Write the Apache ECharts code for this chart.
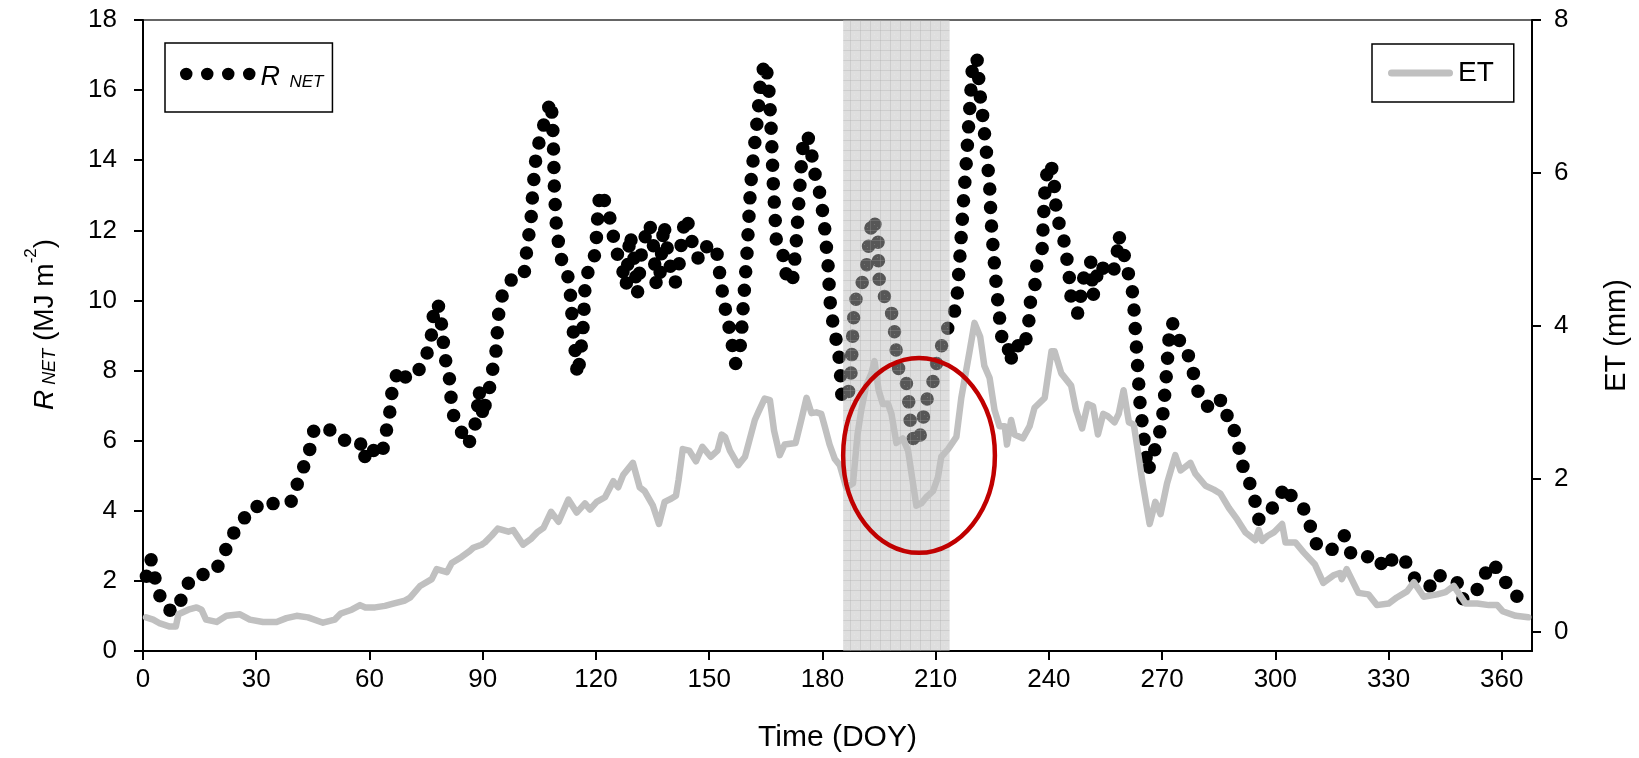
<!DOCTYPE html>
<html>
<head>
<meta charset="utf-8">
<title>R NET and ET</title>
<script src="https://cdn.jsdelivr.net/npm/echarts@6.0.0/dist/echarts.min.js"></script>
<style>
  html, body { margin: 0; padding: 0; background: #fff; }
  #chart { width: 1639px; height: 758px; }
</style>
</head>
<body>
<div id="chart"></div>
<script>
// tick labels
const xTicks = [0, 30, 60, 90, 120, 150, 180, 210, 240, 270, 300, 330, 360]
const etTicks = [0, 2, 4, 6, 8]

// net radiation, [DOY, MJ m-2]
const rnet = [
  [0.9, 2.13], [2.1, 2.62], [2.8, 2.29], [3.7, 1.80], [5.5, 1.28], [8.1, 1.10], [10.6, 1.55], [12.5, 2.06],
  [14.7, 2.15], [19.2, 2.27], [21.4, 2.76], [23.4, 3.26], [25.8, 3.66], [29.7, 4.15], [31.8, 4.03], [35.0, 4.24],
  [39.4, 4.27], [40.9, 4.77], [42.7, 5.29], [44.3, 5.79], [45.3, 6.31], [48.9, 6.37], [52.0, 6.05], [54.3, 5.99],
  [57.5, 5.99], [58.6, 5.47], [59.5, 5.85], [61.3, 5.70], [63.3, 5.55], [64.0, 6.05], [65.0, 6.53], [65.7, 7.06],
  [66.1, 7.58], [67.9, 8.06], [69.9, 7.76], [72.5, 7.90], [75.0, 8.40], [76.3, 8.90], [76.8, 9.42], [77.2, 9.92],
  [78.7, 9.80], [79.1, 9.30], [79.6, 8.78], [80.2, 8.28], [81.2, 7.76], [81.6, 7.24], [82.2, 6.74], [84.4, 6.24],
  [86.2, 5.87], [87.5, 6.30], [88.4, 6.63], [89.0, 7.44], [90.2, 6.66], [90.8, 7.15], [92.2, 7.65], [92.8, 8.16],
  [93.7, 8.66], [93.9, 9.19], [94.3, 9.69], [95.3, 10.20], [97.9, 10.64], [100.9, 10.70], [101.4, 11.10], [101.8, 11.63],
  [102.7, 12.13], [103.3, 13.17], [104.2, 14.19], [105.3, 14.67], [106.6, 15.17], [108.0, 15.70], [108.5, 15.17], [108.8, 14.16],
  [109.0, 13.14], [109.5, 12.15], [110.1, 11.63], [111.0, 11.10], [112.5, 10.73], [113.2, 10.23], [113.9, 9.22], [114.7, 8.34],
  [115.1, 7.85], [115.8, 8.34], [116.7, 9.36], [117.1, 10.37], [118.0, 10.87], [119.3, 11.05], [120.0, 11.57], [120.6, 12.62],
  [121.1, 13.10], [122, 12.90], [123, 12.70], [124, 12.20], [125, 11.60], [126, 11.20], [127, 10.90], [128, 10.40],
  [129, 11.90], [130, 11.30], [131, 10.20], [132, 11.30], [133, 11.80], [134, 12.20], [135, 11.90], [136, 10.40],
  [137, 10.80], [138, 12.20], [139, 11.40], [140, 10.80], [141, 10.50], [142, 11.00], [143, 12.00], [144, 12.40],
  [145, 11.90], [146, 11.40], [147, 11.20], [148, 11.50], [149, 11.60], [150, 11.40], [151, 11.50], [152, 11.40],
  [153, 10.60], [154, 9.90], [155, 9.40], [156, 8.80], [157, 8.20], [158.4, 8.78], [159.0, 9.80], [160.0, 11.30],
  [161.0, 13.30], [162.0, 14.40], [163.0, 15.40], [163.7, 16.40], [165.0, 16.80], [166.0, 15.80], [166.5, 14.70], [167.0, 13.30],
  [167.8, 11.70], [169.3, 11.50], [170.0, 10.97], [170.9, 10.47], [172.2, 10.66], [172.9, 11.40], [173.7, 12.70], [174.3, 13.70],
  [175.1, 14.71], [176.6, 14.60], [177.3, 14.07], [178.1, 13.57], [179.3, 13.06], [180.4, 12.30], [181.5, 11.01], [182.0, 10.00],
  [182.6, 9.50], [183.3, 9.01], [184.1, 8.72], [184.6, 8.20], [185.2, 7.21], [186.5, 7.15], [187.5, 7.73], [188.1, 9.22],
  [188.4, 9.71], [189.4, 10.35], [190.5, 10.50], [191.6, 10.85], [192.5, 11.86], [193.4, 12.38], [194.7, 11.86], [194.9, 10.85],
  [195.2, 10.35], [196.0, 10.20], [198.1, 9.77], [199.0, 9.24], [199.8, 8.26], [200.5, 7.90], [202.0, 7.80], [202.7, 7.36],
  [203.4, 6.36], [204.5, 5.87], [205.8, 6.10], [206.6, 6.51], [207.1, 7.03], [209.1, 7.53], [209.7, 8.02], [211.1, 8.49],
  [212.0, 8.90], [213.9, 9.38], [215.5, 9.83], [216.5, 11.36], [217.4, 12.87], [218.1, 13.90], [219.0, 15.41], [219.9, 16.92],
  [221.0, 16.86], [221.8, 15.84], [222.4, 15.33], [223.4, 14.30], [224.3, 13.29], [224.7, 12.27], [225.4, 11.26], [226.2, 10.26],
  [227.2, 9.24], [227.8, 8.72], [229.2, 8.72], [229.6, 8.22], [231.4, 8.78], [232.7, 8.57], [234.4, 9.03], [235.2, 10.06],
  [236.5, 10.52], [236.8, 11.01], [238.2, 11.42], [238.6, 12.42], [239.1, 13.43], [240.2, 13.93], [241.2, 13.64], [241.9, 12.62],
  [242.9, 12.09], [244.3, 11.59], [245.5, 10.58], [245.9, 10.06], [247.7, 9.62], [249.0, 10.52], [249.9, 11.01], [251.2, 11.10],
  [251.7, 10.12], [253.3, 11.05], [256.1, 10.70], [257.8, 10.99], [258.5, 11.86], [259.5, 11.50], [260.6, 10.99], [262.3, 10.17],
  [263.2, 8.66], [264.1, 7.13], [265.1, 6.13], [266.2, 5.12], [267.1, 5.41], [268.5, 5.90], [269.6, 6.34], [270.3, 6.83],
  [271.1, 7.83], [271.8, 8.87], [272.6, 9.36], [273.8, 9.22], [274.9, 8.72], [276.4, 8.60], [277.9, 8.14], [278.8, 7.64],
  [280.3, 7.15], [282.0, 6.98], [285.3, 7.24], [286.2, 6.74], [288.3, 6.69], [289.4, 6.16], [290.7, 5.66], [291.6, 5.17],
  [293.4, 4.74], [294.7, 4.24], [295.6, 3.76], [297.8, 3.84], [300.0, 4.21], [302.8, 4.71], [304.0, 4.45], [307.7, 4.03],
  [309.3, 3.55], [310.9, 3.05], [314.7, 2.85], [317.1, 3.20], [318.3, 3.29], [319.8, 2.81], [323.3, 2.64], [326.0, 2.76],
  [329.3, 2.33], [331.6, 2.73], [335.1, 2.50], [337.3, 1.98], [341.4, 1.84], [342.9, 2.19], [345.1, 2.06], [348.2, 1.95],
  [349.3, 1.48], [352.6, 1.57], [354.8, 2.03], [357.1, 2.52], [360.2, 2.20], [361.8, 1.74], [365.0, 1.48]
]

// evapotranspiration, [DOY, mm]
const et = [
  [0.8, 0.19], [2.7, 0.16], [4.5, 0.11], [7.1, 0.07], [8.7, 0.07], [9.4, 0.23], [12.0, 0.29], [14.2, 0.32],
  [15.5, 0.29], [16.7, 0.16], [19.5, 0.13], [22.1, 0.21], [25.7, 0.23], [28.3, 0.16], [31.8, 0.13], [35.4, 0.13],
  [38.0, 0.18], [40.7, 0.21], [43.7, 0.19], [47.7, 0.12], [50.8, 0.16], [52.4, 0.24], [55.3, 0.29], [57.5, 0.35],
  [58.9, 0.32], [61.5, 0.32], [64.1, 0.34], [66.3, 0.37], [69.4, 0.41], [70.8, 0.45], [73.4, 0.60], [76.5, 0.69],
  [77.8, 0.82], [80.5, 0.78], [81.8, 0.90], [84.4, 0.98], [86.6, 1.06], [87.5, 1.10], [89.7, 1.14], [90.6, 1.17],
  [92.4, 1.26], [94.0, 1.35], [96.8, 1.31], [98.1, 1.33], [100.7, 1.14], [102.9, 1.22], [104.4, 1.30], [106.1, 1.36],
  [108.1, 1.57], [110.1, 1.44], [112.7, 1.73], [114.9, 1.56], [117.1, 1.68], [118.4, 1.60], [120.2, 1.70], [122.4, 1.76],
  [124.6, 1.97], [125.9, 1.89], [127.2, 2.05], [129.8, 2.21], [131.6, 1.89], [132.9, 1.84], [135.1, 1.65], [136.7, 1.41],
  [138.2, 1.70], [139.9, 1.74], [141.2, 1.78], [141.9, 1.99], [143.0, 2.39], [144.7, 2.37], [146.5, 2.23], [148.2, 2.42],
  [150.4, 2.29], [152.2, 2.37], [153.3, 2.58], [154.2, 2.55], [155.5, 2.37], [157.7, 2.18], [159.5, 2.29], [162.1, 2.77],
  [163.0, 2.87], [164.7, 3.05], [166.1, 3.03], [167.2, 2.63], [168.7, 2.31], [170.0, 2.45], [172.9, 2.47], [174.4, 2.77],
  [175.8, 3.06], [177.1, 2.86], [178.4, 2.87], [179.7, 2.85], [180.6, 2.69], [181.9, 2.45], [183.3, 2.26], [184.6, 2.18],
  [186.3, 1.89], [188.1, 1.94], [189.3, 2.58], [190.3, 2.90], [191.6, 3.22], [193.0, 3.38], [193.8, 3.54], [194.9, 3.16],
  [196.0, 2.98], [197.4, 2.98], [198.3, 2.85], [199.6, 2.47], [201.3, 2.53], [202.7, 2.37], [204.0, 1.94], [204.9, 1.65],
  [206.2, 1.68], [207.5, 1.76], [209.3, 1.84], [210.6, 2.02], [211.5, 2.29], [213.3, 2.39], [215.5, 2.55], [216.8, 3.06],
  [219.0, 3.67], [220.3, 4.04], [221.8, 3.86], [222.9, 3.48], [224.3, 3.32], [225.6, 2.90], [226.9, 2.69], [228.3, 2.69],
  [228.9, 2.45], [230.0, 2.77], [230.9, 2.58], [233.1, 2.53], [234.9, 2.69], [236.2, 2.93], [238.9, 3.06], [240.7, 3.67],
  [241.5, 3.67], [243.3, 3.38], [245.9, 3.22], [247.2, 2.90], [248.8, 2.66], [250.3, 2.98], [251.7, 2.95], [253.0, 2.58],
  [254.4, 2.85], [255.6, 2.82], [257.4, 2.74], [258.5, 2.85], [259.8, 3.16], [261.2, 2.74], [262.5, 2.71], [263.4, 2.42],
  [264.7, 1.99], [266.7, 1.41], [268.2, 1.70], [269.6, 1.54], [271.3, 1.94], [273.5, 2.31], [274.9, 2.11], [277.5, 2.21],
  [278.8, 2.07], [281.5, 1.91], [283.7, 1.86], [285.4, 1.81], [287.7, 1.62], [289.9, 1.47], [292.1, 1.30], [294.7, 1.20],
  [295.6, 1.33], [296.5, 1.19], [297.8, 1.25], [299.6, 1.30], [301.8, 1.41], [302.7, 1.17], [305.3, 1.17], [307.5, 1.04],
  [310.5, 0.88], [312.7, 0.64], [315.4, 0.74], [317.1, 0.77], [317.6, 0.69], [318.9, 0.82], [322.0, 0.51], [324.7, 0.49],
  [326.9, 0.35], [330.0, 0.37], [332.2, 0.45], [334.9, 0.53], [336.7, 0.65], [339.3, 0.46], [342.9, 0.49], [345.1, 0.52],
  [347.3, 0.60], [350.4, 0.37], [353.5, 0.37], [356.6, 0.35], [358.8, 0.35], [360.2, 0.27], [363.7, 0.21], [367.0, 0.19]
]

// shaded period, [start DOY, end DOY]
const shadedPeriod = [[185.5, 213.7]]
// highlighted region: centre DOY, centre R NET, half width (days), half height (MJ m-2)
const highlight = [[205.6, 5.58, 20.1, 2.78]]

const font = 'Liberation Sans, Arial, sans-serif'

// grey mesh used by the shaded period
const makeMesh = () => {
  const c = document.createElement('canvas')
  c.width = 10
  c.height = 10
  const g = c.getContext('2d')
  g.fillStyle = 'rgba(185,185,185,0.47)'
  g.fillRect(0, 0, 10, 10)
  g.fillStyle = 'rgba(160,160,160,0.28)'
  g.fillRect(0, 0, 10, 1)
  g.fillRect(0, 0, 1, 10)
  g.fillStyle = 'rgba(255,255,255,0.18)'
  g.fillRect(4, 4, 1, 1)
  g.fillRect(7, 7, 1, 1)
  return c
}
const mesh = makeMesh()

// four dots and a capsule for the legend keys
const dotsIcon = 'path://M0,6.25A6.25,6.25 0 1,1 12.5,6.25A6.25,6.25 0 1,1 0,6.25Z M21,6.25A6.25,6.25 0 1,1 33.5,6.25A6.25,6.25 0 1,1 21,6.25Z M42,6.25A6.25,6.25 0 1,1 54.5,6.25A6.25,6.25 0 1,1 42,6.25Z M63,6.25A6.25,6.25 0 1,1 75.5,6.25A6.25,6.25 0 1,1 63,6.25Z'
const barIcon = 'path://M3.5,0L61.5,0A3.5,3.5 0 0,1 61.5,7L3.5,7A3.5,3.5 0 0,1 3.5,0Z'

const chart = echarts.init(document.getElementById('chart'))

chart.setOption({
  animation: false,
  backgroundColor: '#fff',
  textStyle: { fontFamily: font, color: '#000' },
  grid: {
    left: 143, right: 107, top: 20, bottom: 107,
    show: true, borderColor: '#333', borderWidth: 1.5
  },
  legend: [
    {
      data: [{ name: 'RNET', icon: dotsIcon, itemStyle: { color: '#000', borderWidth: 0 } }],
      left: 165, top: 43,
      padding: [21, 9, 21, 15],
      itemWidth: 75.5, itemHeight: 12.5,
      borderColor: '#000', borderWidth: 1.5,
      selectedMode: false,
      formatter: () => '{r|R}{s|  NET}',
      textStyle: {
        rich: {
          r: { fontFamily: font, fontSize: 27, fontStyle: 'italic', lineHeight: 34, verticalAlign: 'bottom', color: '#000' },
          s: { fontFamily: font, fontSize: 17, fontStyle: 'italic', lineHeight: 17, verticalAlign: 'bottom', color: '#000' }
        }
      }
    },
    {
      data: [{ name: 'ET', icon: barIcon, itemStyle: { color: '#c0c0c0', borderWidth: 0 } }],
      left: 1372, top: 44,
      padding: [13, 20, 13, 16],
      itemWidth: 65, itemHeight: 7,
      borderColor: '#000', borderWidth: 1.5,
      selectedMode: false,
      textStyle: { fontFamily: font, fontSize: 28, color: '#000', lineHeight: 32 }
    }
  ],
  xAxis: {
    type: 'value',
    min: 0, max: 368,
    name: 'Time (DOY)',
    nameLocation: 'middle',
    nameGap: 72,
    nameTextStyle: { fontFamily: font, fontSize: 30, color: '#000' },
    axisLine: { lineStyle: { color: '#000', width: 2 } },
    axisTick: { customValues: xTicks, inside: false, length: 9, lineStyle: { color: '#000', width: 2 } },
    axisLabel: { customValues: xTicks, margin: 16, fontFamily: font, fontSize: 26, color: '#000' },
    splitLine: { show: false }
  },
  yAxis: [
    {
      type: 'value',
      min: 0, max: 18, interval: 2,
      position: 'left',
      name: '{i|R}{sub| NET}{n| (MJ m}{sup|-2}{n|)}',
      nameLocation: 'middle',
      nameRotate: 90,
      nameGap: 84,
      nameTextStyle: {
        fontFamily: font, color: '#000',
        padding: [0, 0, 0, 22],
        rich: {
          i: { fontFamily: font, fontSize: 28, fontStyle: 'italic', lineHeight: 40, verticalAlign: 'bottom', color: '#000' },
          sub: { fontFamily: font, fontSize: 18, fontStyle: 'italic', lineHeight: 18, verticalAlign: 'bottom', color: '#000' },
          n: { fontFamily: font, fontSize: 28, lineHeight: 40, verticalAlign: 'bottom', color: '#000' },
          sup: { fontFamily: font, fontSize: 17, lineHeight: 17, verticalAlign: 'bottom', padding: [0, 0, 19, 0], color: '#000' }
        }
      },
      axisLine: { show: true, lineStyle: { color: '#000', width: 2 } },
      axisTick: { show: true, length: 9, lineStyle: { color: '#000', width: 2 } },
      axisLabel: { margin: 26, fontFamily: font, fontSize: 26, color: '#000' },
      splitLine: { show: false }
    },
    {
      type: 'value',
      min: -0.25, max: 8,
      position: 'right',
      name: 'ET (mm)',
      nameLocation: 'middle',
      nameRotate: 90,
      nameGap: 70,
      nameTextStyle: { fontFamily: font, fontSize: 29, color: '#000' },
      axisLine: { show: true, lineStyle: { color: '#000', width: 2 } },
      axisTick: { show: true, customValues: etTicks, length: 9, lineStyle: { color: '#000', width: 2 } },
      axisLabel: { customValues: etTicks, margin: 22, fontFamily: font, fontSize: 26, color: '#000' },
      splitLine: { show: false }
    }
  ],
  series: [
    {
      name: 'RNET',
      type: 'line',
      yAxisIndex: 0,
      z: 2,
      data: rnet,
      showSymbol: false,
      symbol: 'none',
      silent: true,
      color: '#000',
      itemStyle: { color: '#000' },
      lineStyle: { color: '#000', width: 13.5, type: [0, 18.5], cap: 'round', join: 'round' }
    },
    {
      name: 'shaded',
      type: 'custom',
      yAxisIndex: 0,
      z: 3,
      silent: true,
      data: shadedPeriod,
      encode: { x: [0, 1] },
      renderItem: (params, api) => {
        const a = api.coord([api.value(0), 18])
        const b = api.coord([api.value(1), 0])
        return {
          type: 'rect',
          shape: { x: a[0], y: a[1], width: b[0] - a[0], height: b[1] - a[1] },
          style: { fill: { image: mesh, repeat: 'repeat' }, stroke: null }
        }
      }
    },
    {
      name: 'ET',
      type: 'line',
      yAxisIndex: 1,
      z: 4,
      data: et,
      showSymbol: false,
      symbol: 'none',
      silent: true,
      color: '#c0c0c0',
      itemStyle: { color: '#c0c0c0' },
      lineStyle: { color: '#c0c0c0', width: 6.5, cap: 'round', join: 'round' }
    },
    {
      name: 'highlight',
      type: 'custom',
      yAxisIndex: 0,
      z: 5,
      silent: true,
      data: highlight,
      encode: { x: 0, y: 1 },
      renderItem: (params, api) => {
        const c = api.coord([api.value(0), api.value(1)])
        const s = api.size([api.value(2), api.value(3)])
        return {
          type: 'ellipse',
          shape: { cx: c[0], cy: c[1], rx: s[0], ry: s[1] },
          style: { fill: 'none', stroke: '#c00000', lineWidth: 4.5 }
        }
      }
    }
  ]
})
</script>
</body>
</html>
